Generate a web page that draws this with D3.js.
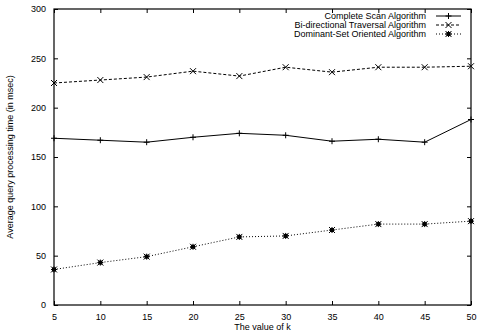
<!DOCTYPE html>
<html><head><meta charset="utf-8">
<script src="https://cdn.jsdelivr.net/npm/d3@7"></script>
<style>body{margin:0;background:#fff}svg{display:block}text{font-family:"Liberation Sans",Arial,sans-serif;font-size:9px;fill:#000}</style>
</head><body><svg id="c" width="477" height="336"></svg>
<script>
const kValues = [5, 10, 15, 20, 25, 30, 35, 40, 45, 50];
const completeScan = [169, 167, 165, 170, 174, 172, 166, 168, 165, 188];
const biDirectional = [225, 228, 231, 237, 232, 241, 236, 241, 241, 242];
const dominantSet = [36, 43, 49, 59, 69, 70, 76, 82, 82, 85];
const seriesNames = ["Complete Scan Algorithm", "Bi-directional Traversal Algorithm", "Dominant-Set Oriented Algorithm"];
const yTicks = [0, 50, 100, 150, 200, 250, 300];

const svg = d3.select("#c");
const L = 54, R = 471, T = 9, B = 305;
const x = d3.scaleLinear().domain([5, 50]).range([L, R]);
const y = d3.scaleLinear().domain([0, 300]).range([B, T]);

const series = [
  {name: seriesNames[0], vals: completeScan, dash: null, mark: "plus"},
  {name: seriesNames[1], vals: biDirectional, dash: "3,2", mark: "cross"},
  {name: seriesNames[2], vals: dominantSet, dash: "1,2", mark: "star"}
];

const tl = 4;
const axL = d3.axisLeft(y).tickValues(yTicks).tickSizeInner(-tl).tickSizeOuter(0).tickPadding(8);
const axB = d3.axisBottom(x).tickValues(kValues).tickSizeInner(-tl).tickSizeOuter(0).tickPadding(9);
const axR = d3.axisRight(y).tickValues(yTicks).tickSizeInner(-tl).tickSizeOuter(0).tickFormat("");
const axT = d3.axisTop(x).tickValues(kValues).tickSizeInner(-tl).tickSizeOuter(0).tickFormat("");
function style(g){ g.select(".domain").remove(); g.selectAll("line").attr("stroke","#000"); g.selectAll("text").attr("font-size",9.5).attr("font-family","Liberation Sans, Arial, sans-serif").attr("fill","#000"); }
svg.append("g").attr("transform",`translate(${L},0)`).call(axL).call(style);
svg.append("g").attr("transform",`translate(0,${B})`).call(axB).call(style);
svg.append("g").attr("transform",`translate(${R},0)`).call(axR).call(style);
svg.append("g").attr("transform",`translate(0,${T})`).call(axT).call(style);
svg.append("rect").attr("x",L).attr("y",T).attr("width",R-L).attr("height",B-T).attr("fill","none").attr("stroke","#000").attr("stroke-width",1.2);

function drawMark(g, cx, cy, type){
  const s = 3;
  const p = g.append("g").attr("stroke","#000").attr("stroke-width",1);
  if (type==="plus"||type==="star"){
    p.append("line").attr("x1",cx-s).attr("x2",cx+s).attr("y1",cy).attr("y2",cy);
    p.append("line").attr("x1",cx).attr("x2",cx).attr("y1",cy-s).attr("y2",cy+s);
  }
  if (type==="cross"||type==="star"){
    p.append("line").attr("x1",cx-s).attr("x2",cx+s).attr("y1",cy-s).attr("y2",cy+s);
    p.append("line").attr("x1",cx-s).attr("x2",cx+s).attr("y1",cy+s).attr("y2",cy-s);
  }
  if (type==="star"){
    p.append("rect").attr("x",cx-2).attr("y",cy-2).attr("width",4).attr("height",4).attr("fill","#000").attr("stroke","none");
  }
}

const line = d3.line().x((d,i)=>x(kValues[i])).y(d=>y(d));
series.forEach(s=>{
  svg.append("path").datum(s.vals).attr("d",line).attr("fill","none").attr("stroke","#000").attr("stroke-width",1)
    .attr("stroke-dasharray",s.dash);
  const g = svg.append("g");
  s.vals.forEach((v,i)=>drawMark(g, x(kValues[i]), y(v), s.mark));
});

const lg = svg.append("g");
series.forEach((s,i)=>{
  const ly = 16 + i*9;
  lg.append("text").attr("x",426).attr("y",ly).attr("dy","0.35em").attr("text-anchor","end").attr("font-size",8.5).text(s.name);
  lg.append("line").attr("x1",436).attr("x2",461).attr("y1",ly).attr("y2",ly).attr("stroke","#000").attr("stroke-dasharray",s.dash);
  drawMark(lg, 448.5, ly, s.mark);
});

svg.append("text").attr("x",(L+R)/2).attr("y",330).attr("text-anchor","middle").text("The value of k");
svg.append("text").attr("transform",`translate(13,${(T+B)/2}) rotate(-90)`).attr("text-anchor","middle").text("Average query processing time (in msec)");
</script></body></html>
